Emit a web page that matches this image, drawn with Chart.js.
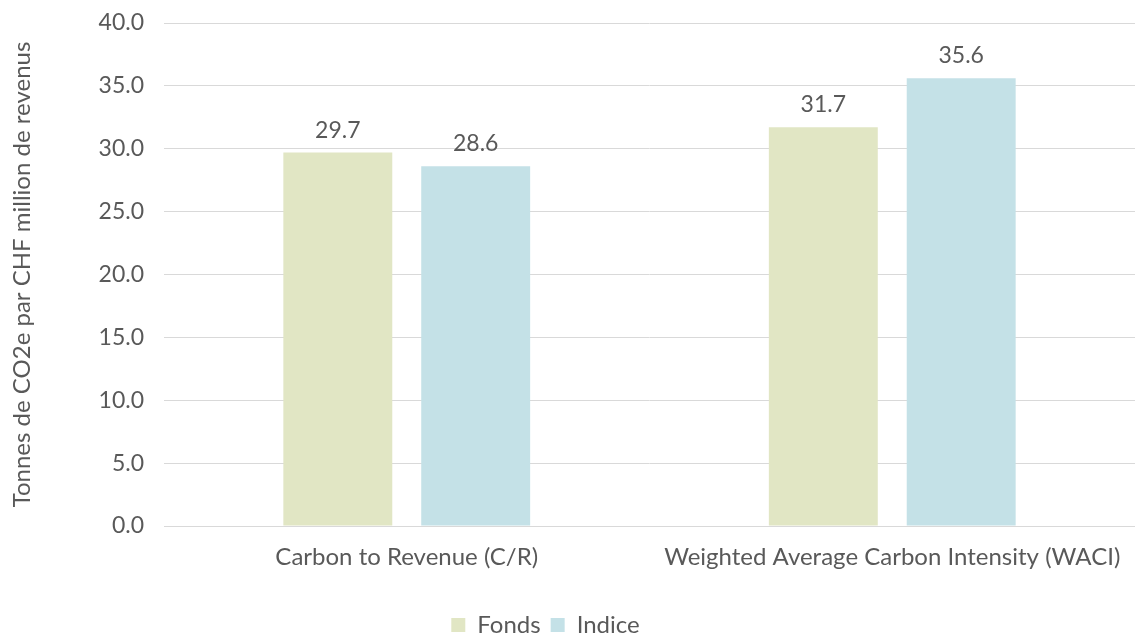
<!DOCTYPE html>
<html><head><meta charset="utf-8">
<script src="https://cdn.jsdelivr.net/npm/chart.js@4/dist/chart.umd.min.js"></script>
<style>html,body{margin:0;padding:0;background:#fff}#wrap{width:1135px;height:635px}</style>
</head><body><div id="wrap"><canvas id="c" width="1135" height="635"></canvas></div>
<script>
const categories = ["Carbon to Revenue (C/R)", "Weighted Average Carbon Intensity (WACI)"];
const fonds = [29.7, 31.7];
const indice = [28.6, 35.6];
const seriesNames = ["Fonds", "Indice"];
const yTitle = "Tonnes de CO2e par CHF million de revenus";

const txt = "#595959";
const FONT = "Lato, 'Open Sans', sans-serif";

const valueLabels = {
  id: "valueLabels",
  afterDatasetsDraw(chart) {
    const ctx = chart.ctx;
    ctx.save();
    ctx.font = "23px " + FONT;
    ctx.fillStyle = txt;
    ctx.textAlign = "center";
    ctx.textBaseline = "alphabetic";
    chart.data.datasets.forEach((ds, i) => {
      chart.getDatasetMeta(i).data.forEach((bar, j) => {
        ctx.fillText(ds.data[j].toFixed(1), bar.x, bar.y - 15);
      });
    });
    ctx.restore();
  }
};

const legendShift = {
  id: "legendShift",
  afterLayout(chart) {
    if (chart.legend) { chart.legend.left -= 52; chart.legend.right -= 0; }
  }
};

new Chart(document.getElementById("c"), {
  type: "bar",
  data: {
    labels: categories,
    datasets: [
      { label: seriesNames[0], data: fonds, backgroundColor: "#E1E6C4", categoryPercentage: 0.568, barPercentage: 0.79 },
      { label: seriesNames[1], data: indice, backgroundColor: "#C4E1E7", categoryPercentage: 0.568, barPercentage: 0.79 }
    ]
  },
  options: {
    responsive: false,
    animation: false,
    devicePixelRatio: 1,
    layout: { padding: { top: 23, right: 0, left: 8, bottom: -12 } },
    plugins: {
      legend: {
        position: "bottom",
        labels: { boxWidth: 14, boxHeight: 14, color: txt, font: { size: 24, family: FONT }, padding: 10 }
      },
      tooltip: { enabled: false }
    },
    scales: {
      x: {
        grid: { display: false },
        border: { display: true, color: "#d9d9d9", width: 1 },
        ticks: { color: txt, font: { size: 24, family: FONT }, padding: 9 },
        afterFit(s) { s.height = 77; s.paddingLeft = 0; s.paddingRight = 0; }
      },
      y: {
        min: 0, max: 40,
        ticks: { stepSize: 5, color: txt, font: { size: 23, family: FONT }, padding: 20,
                 callback: v => v.toFixed(1) },
        grid: { color: "#d9d9d9", drawTicks: false },
        border: { display: false },
        title: { display: true, text: yTitle, color: txt, font: { size: 24, family: FONT }, padding: { top: 0, bottom: 8 } },
        afterFit(s) { s.width = 156; s.paddingTop = 0; s.paddingBottom = 0; }
      }
    }
  },
  plugins: [valueLabels, legendShift]
});
</script></body></html>
